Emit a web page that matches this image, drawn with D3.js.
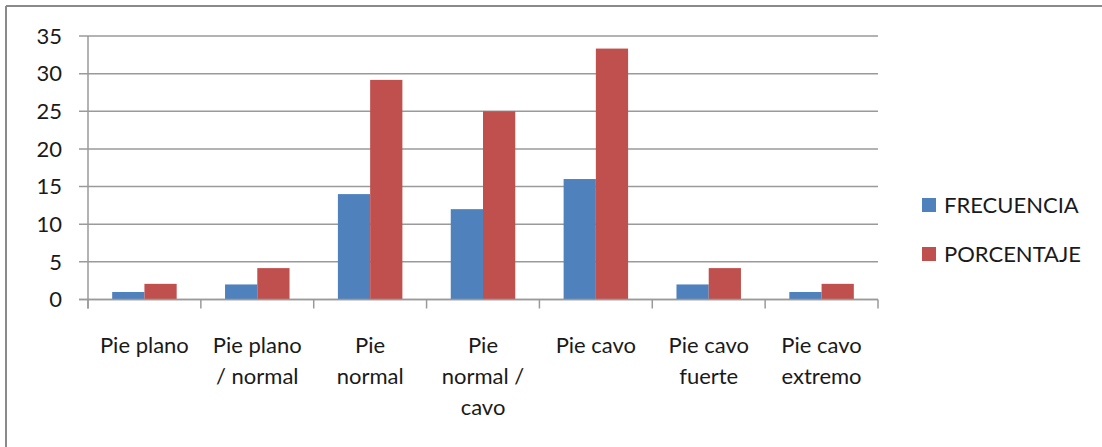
<!DOCTYPE html>
<html>
<head>
<meta charset="utf-8">
<script src="https://cdn.jsdelivr.net/npm/d3@7"></script>
<style>
  html, body { margin: 0; padding: 0; background: #fff; }
  svg { display: block; }
  text { font-family: Lato, "Open Sans", sans-serif; fill: #1a1a1a; }
</style>
</head>
<body>
<svg id="chart" width="1102" height="447"></svg>
<script>
const categories = ["Pie plano", "Pie plano / normal", "Pie normal", "Pie normal / cavo", "Pie cavo", "Pie cavo fuerte", "Pie cavo extremo"];
const categoryLines = [["Pie plano"], ["Pie plano", "/ normal"], ["Pie", "normal"], ["Pie", "normal /", "cavo"], ["Pie cavo"], ["Pie cavo", "fuerte"], ["Pie cavo", "extremo"]];
const seriesNames = ["FRECUENCIA", "PORCENTAJE"];
const frecuencia = [1, 2, 14, 12, 16, 2, 1];
const porcentaje = [2.08, 4.17, 29.17, 25, 33.33, 4.17, 2.08];
const yTicks = [0, 5, 10, 15, 20, 25, 30, 35];
const colors = ["#4F81BD", "#C0504D"];

const svg = d3.select("#chart");

// outer frame (top and left edges visible)
svg.append("line").attr("x1", 6).attr("x2", 1102).attr("y1", 6).attr("y2", 6)
  .attr("stroke", "#8a8a8a").attr("stroke-width", 2);
svg.append("line").attr("x1", 6).attr("x2", 6).attr("y1", 6).attr("y2", 447)
  .attr("stroke", "#8a8a8a").attr("stroke-width", 2);

const plot = { left: 88, right: 878, top: 36, bottom: 299.5 };

const x = d3.scaleBand().domain(categories).range([plot.left, plot.right]).paddingInner(0).paddingOuter(0);
const y = d3.scaleLinear().domain([0, 35]).range([plot.bottom, plot.top]);

const barW = x.bandwidth() / 3.5;
const gap = (x.bandwidth() - 2 * barW) / 2;

// gridlines
svg.append("g").selectAll("line").data(yTicks).join("line")
  .attr("x1", plot.left - 9).attr("x2", plot.right)
  .attr("y1", d => y(d)).attr("y2", d => y(d))
  .attr("stroke", "#9a9a9a").attr("stroke-width", 1.5);

// y labels
svg.append("g").selectAll("text").data(yTicks).join("text")
  .attr("x", 62).attr("y", d => y(d)).attr("dy", "0.35em")
  .attr("text-anchor", "end").style("font-size", "22px")
  .text(d => d);

// bars
const seriesData = [frecuencia, porcentaje];
seriesData.forEach((vals, si) => {
  svg.append("g").selectAll("rect").data(vals).join("rect")
    .attr("x", (d, i) => x(categories[i]) + gap + si * barW)
    .attr("width", barW)
    .attr("y", d => y(d))
    .attr("height", d => y(0) - y(d))
    .attr("fill", colors[si]);
});

// axes lines
svg.append("line").attr("x1", plot.left - 9).attr("x2", plot.right)
  .attr("y1", y(0)).attr("y2", y(0)).attr("stroke", "#9a9a9a").attr("stroke-width", 1.5);
svg.append("line").attr("x1", plot.left).attr("x2", plot.left)
  .attr("y1", plot.top).attr("y2", y(0) + 9).attr("stroke", "#9a9a9a").attr("stroke-width", 1.5);

// x category ticks
const bounds = categories.map(c => x(c)).concat([plot.right]);
svg.append("g").selectAll("line").data(bounds).join("line")
  .attr("x1", d => d).attr("x2", d => d)
  .attr("y1", y(0)).attr("y2", y(0) + 9)
  .attr("stroke", "#9a9a9a").attr("stroke-width", 1.5);

// x labels
const lab = svg.append("g").selectAll("text").data(categories).join("text")
  .attr("text-anchor", "middle").style("font-size", "22px")
  .attr("x", c => x(c) + x.bandwidth() / 2)
  .attr("y", 345);
lab.each(function(c, i) {
  d3.select(this).selectAll("tspan").data(categoryLines[i]).join("tspan")
    .attr("x", x(c) + x.bandwidth() / 2)
    .attr("y", (d, j) => 345 + j * 31)
    .attr("dy", "0.35em")
    .text(d => d);
});

// legend
const leg = svg.append("g");
seriesNames.forEach((n, i) => {
  const cy = 205 + i * 49;
  leg.append("rect").attr("x", 922).attr("y", cy - 7).attr("width", 14).attr("height", 14)
    .attr("fill", colors[i]);
  leg.append("text").attr("x", 944).attr("y", cy).attr("dy", "0.35em")
    .style("font-size", "22px").text(n);
});
</script>
</body>
</html>
